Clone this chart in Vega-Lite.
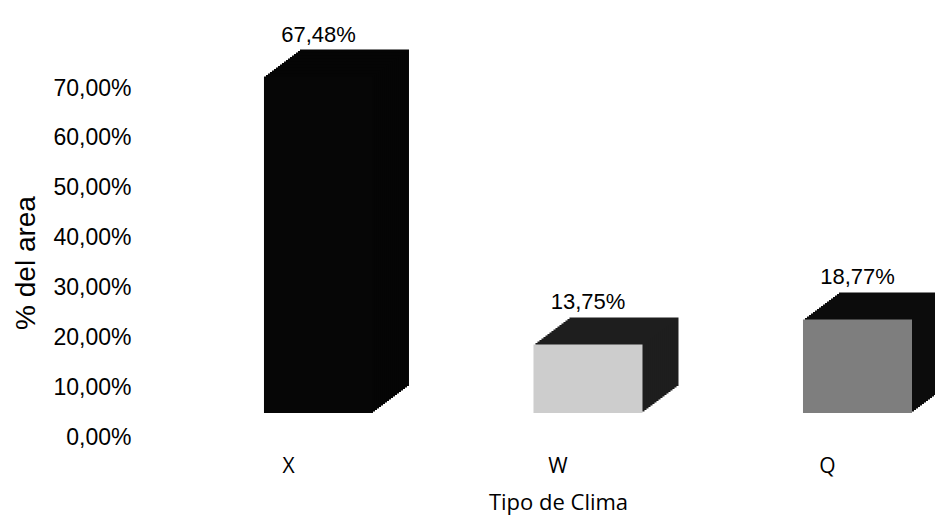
{
  "$schema": "https://vega.github.io/schema/vega-lite/v6.json",
  "autosize": "none",
  "width": 772,
  "height": 349,
  "padding": {"left": 140, "top": 88, "right": 23, "bottom": 80},
  "background": "white",
  "config": {
    "view": {"stroke": null},
    "locale": {"number": {"decimal": ",", "thousands": ".", "grouping": [3], "currency": ["", " €"]}},
    "axis": {"domain": false, "ticks": false, "tickSize": 0, "grid": false}
  },
  "data": {"values": [
    {"clima": "X", "pct": 0.6748},
    {"clima": "W", "pct": 0.1375},
    {"clima": "Q", "pct": 0.1877}
  ]},
  "encoding": {
    "x": {
      "field": "clima", "type": "nominal", "sort": ["X", "W", "Q"],
      "scale": {"paddingInner": 0.5955, "paddingOuter": 0.23, "align": 1},
      "axis": {
        "labelFont": "Open Sans", "labelFontSize": 21, "labelColor": "#000", "labelAngle": 0,
        "labelPadding": 29, "labelBaseline": "middle", "labelOffset": -30,
        "title": "Tipo de Clima", "titleFont": "Open Sans", "titleFontSize": 22, "titleFontWeight": "normal",
        "titleColor": "#000", "titleX": 418, "titleY": 65, "titleBaseline": "middle", "titleAlign": "center"
      }
    },
    "y": {
      "field": "pct", "type": "quantitative",
      "scale": {"domain": [0, 0.7], "nice": false, "zero": true},
      "axis": {
        "values": [0, 0.1, 0.2, 0.3, 0.4, 0.5, 0.6, 0.7], "format": ".2%",
        "labelFont": "Liberation Sans", "labelFontSize": 23, "labelColor": "#000", "labelPadding": 9,
        "title": "% del area", "titleFont": "Liberation Sans", "titleFontSize": 28, "titleFontWeight": "normal",
        "titleColor": "#000", "titleX": -114, "titleY": 174.5, "titleAngle": -90,
        "titleBaseline": "middle", "titleAlign": "center"
      }
    },
    "color": {
      "field": "clima", "type": "nominal", "legend": null,
      "scale": {"domain": ["X", "W", "Q"], "range": ["#050505", "#1e1e1e", "#0c0c0c"]}
    }
  },
  "layer": [
    {"mark": {"type": "bar", "xOffset": 36, "x2Offset": 36, "yOffset": -51, "y2Offset": -51}},
    {"mark": {"type": "bar", "xOffset": 34, "x2Offset": 34, "yOffset": -49.5, "y2Offset": -49.5}},
    {"mark": {"type": "bar", "xOffset": 32, "x2Offset": 32, "yOffset": -48, "y2Offset": -48}},
    {"mark": {"type": "bar", "xOffset": 30, "x2Offset": 30, "yOffset": -46.5, "y2Offset": -46.5}},
    {"mark": {"type": "bar", "xOffset": 28, "x2Offset": 28, "yOffset": -45, "y2Offset": -45}},
    {"mark": {"type": "bar", "xOffset": 26, "x2Offset": 26, "yOffset": -43.5, "y2Offset": -43.5}},
    {"mark": {"type": "bar", "xOffset": 24, "x2Offset": 24, "yOffset": -42, "y2Offset": -42}},
    {"mark": {"type": "bar", "xOffset": 22, "x2Offset": 22, "yOffset": -40.5, "y2Offset": -40.5}},
    {"mark": {"type": "bar", "xOffset": 20, "x2Offset": 20, "yOffset": -39, "y2Offset": -39}},
    {"mark": {"type": "bar", "xOffset": 18, "x2Offset": 18, "yOffset": -37.5, "y2Offset": -37.5}},
    {"mark": {"type": "bar", "xOffset": 16, "x2Offset": 16, "yOffset": -36, "y2Offset": -36}},
    {"mark": {"type": "bar", "xOffset": 14, "x2Offset": 14, "yOffset": -34.5, "y2Offset": -34.5}},
    {"mark": {"type": "bar", "xOffset": 12, "x2Offset": 12, "yOffset": -33, "y2Offset": -33}},
    {"mark": {"type": "bar", "xOffset": 10, "x2Offset": 10, "yOffset": -31.5, "y2Offset": -31.5}},
    {"mark": {"type": "bar", "xOffset": 8, "x2Offset": 8, "yOffset": -30, "y2Offset": -30}},
    {"mark": {"type": "bar", "xOffset": 6, "x2Offset": 6, "yOffset": -28.5, "y2Offset": -28.5}},
    {"mark": {"type": "bar", "xOffset": 4, "x2Offset": 4, "yOffset": -27, "y2Offset": -27}},
    {"mark": {"type": "bar", "xOffset": 2, "x2Offset": 2, "yOffset": -25.5, "y2Offset": -25.5}},
    {
      "mark": {"type": "bar", "yOffset": -24, "y2Offset": -24},
      "encoding": {
        "fill": {
          "field": "clima", "type": "nominal", "legend": null,
          "scale": {"domain": ["X", "W", "Q"], "range": ["#060606", "#cdcdcd", "#7e7e7e"]}
        }
      }
    },
    {
      "mark": {"type": "text", "font": "Liberation Sans", "fontSize": 22, "baseline": "middle", "align": "center", "yOffset": -66},
      "encoding": {
        "text": {"field": "pct", "type": "quantitative", "format": ".2%"},
        "color": {"value": "#000"}
      }
    }
  ]
}
